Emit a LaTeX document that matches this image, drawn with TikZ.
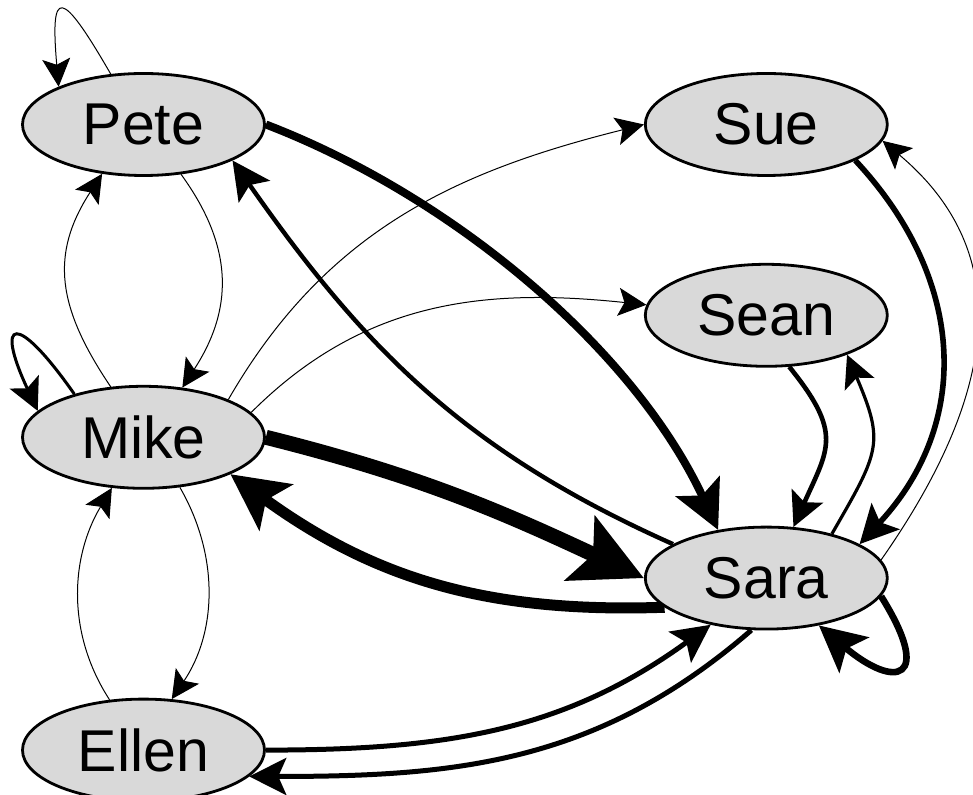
\documentclass[tikz,border=0pt]{standalone}
\usepackage{fontspec}
\setmainfont{Liberation Sans}
\usepackage{tikz}
\usetikzlibrary{shapes,arrows.meta,positioning,backgrounds}
\definecolor{nodegray}{RGB}{217,217,217}

\begin{document}
\begin{tikzpicture}[node distance=104pt and 189pt, every node/.style={font=\fontsize{29.5}{34}\selectfont},
  person/.style={draw,ellipse,fill=nodegray,line width=1.4pt,minimum width=121pt,minimum height=51pt,inner sep=0pt},
  tie/.style n args={3}{line width=#1,-{Stealth[length=#2,width=#2,inset=#3]}},
  weak/.style={tie={0.5pt}{14pt}{3pt}}]
\useasboundingbox (-71.75pt,62.25pt) rectangle (414.75pt,-335.25pt);
\node[person](pete){Pete};
\node[person,below=of pete](mike){Mike};
\node[person,below=of mike](ellen){Ellen};
\node[person,right=of pete](sue){Sue};
\node[person,below=43pt of sue](sean){Sean};
\node[person,below=79pt of sean](sara){Sara};
\begin{scope}[on background layer]
% left column
\draw[weak](pete.123) to[out=120,in=95,distance=50pt](pete.156);
\draw[weak](pete.-53) to[out=-54,in=57,distance=46pt](mike.52);
\draw[weak](mike.123) to[out=124,in=-123,distance=48pt](pete.-130);
\draw[tie={1.5pt}{16pt}{3.5pt}](mike.148) to[out=125,in=115,distance=51pt](mike.166);
\draw[weak](mike.-54) to[out=-60,in=56,distance=40pt](ellen.61);
\draw[weak](ellen.124) to[out=123,in=-121,distance=40pt](mike.-122);
% across
\draw[tie={4pt}{24pt}{5pt}](pete.0) to[out=-21,in=115,distance=100pt](sara.135);
\draw[tie={2.2pt}{19pt}{4pt}](sara.160) to[out=156,in=-55](pete.-22);
\draw[weak](mike.24) to[out=60,in=-166](sue.180);
\draw[weak](mike.13) to[out=45,in=174](sean.175);
\draw[tie={7.5pt}{35pt}{7pt}](mike.0) to[out=-14,in=155](sara.180);
\draw[tie={5.5pt}{28pt}{6pt}](sara.196) to[out=182,in=-36](mike.-23);
\draw[tie={2.5pt}{19pt}{4pt}](ellen.0) to[out=0,in=-144](sara.-140);
\draw[tie={2.5pt}{18.5pt}{4pt}](sara.-106) to[out=-139,in=0](ellen.-14);
% right column
\draw[tie={2.8pt}{19pt}{4pt}](sue.-22) to[out=-47,in=47,distance=82pt](sara.20);
\draw[weak](sara.9) to[out=55,in=-40,distance=93pt](sue.-8);
\draw[tie={2.3pt}{17pt}{3.5pt}](sean.-66) to[out=-51,in=66,distance=43pt](sara.62);
\draw[tie={1.6pt}{16pt}{3.5pt}](sara.34) to[out=60,in=-67,distance=48pt](sean.-26);
\draw[tie={3.3pt}{23pt}{5pt}](sara.-9) to[out=-58,in=-40,distance=50pt](sara.-42);
\end{scope}
\end{tikzpicture}
\end{document}
